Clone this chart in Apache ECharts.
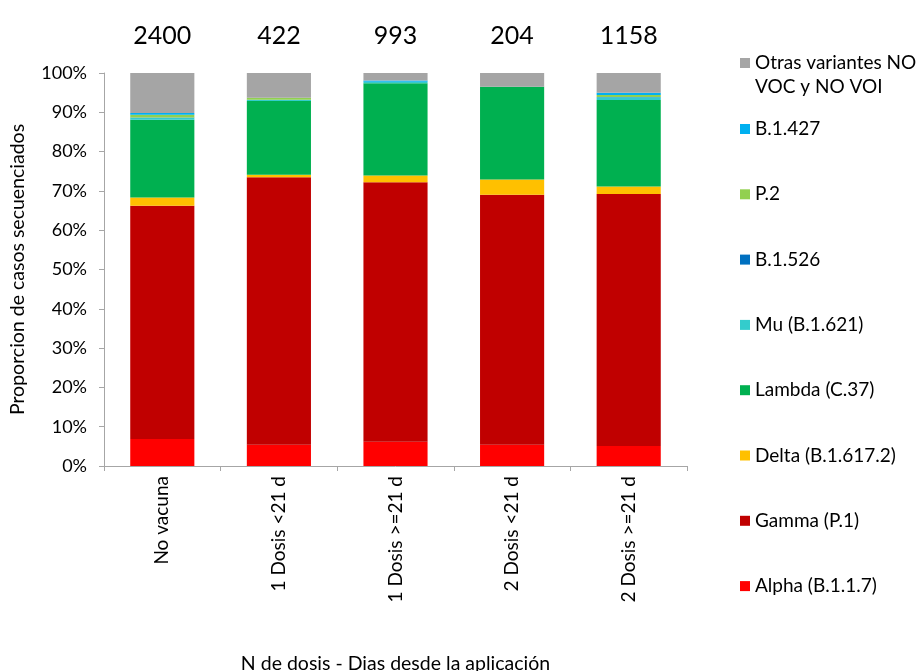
<!DOCTYPE html>
<html>
<head>
<meta charset="utf-8">
<script src="https://cdn.jsdelivr.net/npm/echarts@6/dist/echarts.min.js"></script>
<style>
  html, body { margin: 0; padding: 0; background: #fff; }
  #chart { width: 921px; height: 671px; }
</style>
</head>
<body>
<div id="chart"></div>
<script>
// Vaccination groups (x axis) and number of sequenced cases per group
const categories = ['No vacuna', '1 Dosis <21 d', '1 Dosis >=21 d', '2 Dosis <21 d', '2 Dosis >=21 d'];
const totals = [2400, 422, 993, 204, 1158];

// Share of sequenced cases per variant, in percent (stacked bottom to top)
const alpha   = [6.9, 5.4, 6.2, 5.4, 5.1];
const gamma   = [59.3, 68.1, 66.0, 63.6, 64.1];
const delta   = [2.1, 0.6, 1.7, 3.9, 1.9];
const lambda  = [19.8, 18.8, 23.5, 23.6, 22.0];
const mu      = [0.5, 0.3, 0.4, 0.0, 0.7];
const b1526   = [0.1, 0.0, 0.0, 0.0, 0.1];
const p2      = [0.7, 0.5, 0.0, 0.0, 0.5];
const b1427   = [0.4, 0.0, 0.3, 0.0, 0.6];
const otras   = [10.2, 6.3, 1.9, 3.5, 5.0];

const yTicks = [0, 10, 20, 30, 40, 50, 60, 70, 80, 90, 100];

const OTRAS = 'Otras variantes NO VOC y NO VOI';
const stackOrder = [
  { name: 'Alpha (B.1.1.7)',    data: alpha,  color: '#FF0000' },
  { name: 'Gamma (P.1)',        data: gamma,  color: '#C00000' },
  { name: 'Delta (B.1.617.2)',  data: delta,  color: '#FFC000' },
  { name: 'Lambda (C.37)',      data: lambda, color: '#00B050' },
  { name: 'Mu (B.1.621)',       data: mu,     color: '#33CCCC' },
  { name: 'B.1.526',            data: b1526,  color: '#0070C0' },
  { name: 'P.2',                data: p2,     color: '#92D050' },
  { name: 'B.1.427',            data: b1427,  color: '#00B0F0' },
  { name: OTRAS,                data: otras,  color: '#A5A5A5' }
];

const FONT = 'Lato, "Open Sans", sans-serif';

const series = stackOrder.map((s, idx) => ({
  name: s.name,
  type: 'bar',
  stack: 'total',
  data: s.data,
  barCategoryGap: '45%',
  itemStyle: { color: s.color },
  label: idx === stackOrder.length - 1 ? {
    show: true,
    position: 'top',
    distance: 25,
    color: '#000',
    fontFamily: FONT,
    fontSize: 25,
    formatter: p => String(totals[p.dataIndex])
  } : { show: false },
  emphasis: { disabled: true }
}));

const option = {
  animation: false,
  backgroundColor: '#fff',
  grid: {
    left: 104, top: 73, width: 583, height: 393,
    containLabel: false,
    outerBoundsMode: 'none'
  },
  legend: [
    {
      orient: 'vertical',
      left: 740,
      top: 27,
      padding: 0,
      itemWidth: 10,
      itemHeight: 10,
      icon: 'rect',
      data: [OTRAS],
      selectedMode: false,
      formatter: () => '\nOtras variantes NO\nVOC y NO VOI',
      textStyle: { color: '#000', fontFamily: FONT, fontSize: 19, lineHeight: 24 }
    },
    {
      orient: 'vertical',
      left: 740,
      top: 118,
      padding: 0,
      itemWidth: 10,
      itemHeight: 10,
      itemGap: 43.3,
      icon: 'rect',
      selectedMode: false,
      data: ['B.1.427', 'P.2', 'B.1.526', 'Mu (B.1.621)', 'Lambda (C.37)',
             'Delta (B.1.617.2)', 'Gamma (P.1)', 'Alpha (B.1.1.7)'],
      textStyle: { color: '#000', fontFamily: FONT, fontSize: 19, lineHeight: 22 }
    }
  ],
  xAxis: {
    type: 'category',
    data: categories,
    name: 'N de dosis - Dias desde la aplicación',
    nameLocation: 'middle',
    nameGap: 188,
    nameTextStyle: { color: '#000', fontFamily: FONT, fontSize: 19.5 },
    axisLine: { lineStyle: { color: '#A6A6A6', width: 1 } },
    axisTick: { show: true, length: 5, lineStyle: { color: '#A6A6A6' } },
    axisLabel: {
      rotate: 90,
      margin: 10,
      color: '#000',
      fontFamily: FONT,
      fontSize: 19,
      interval: 0
    }
  },
  yAxis: {
    type: 'value',
    min: 0,
    max: 100,
    interval: 10,
    name: 'Proporcion de casos secuenciados',
    nameLocation: 'middle',
    nameGap: 76,
    nameTextStyle: { color: '#000', fontFamily: FONT, fontSize: 19.5 },
    axisLine: { show: true, lineStyle: { color: '#A6A6A6', width: 1 } },
    axisTick: { show: true, length: 5, lineStyle: { color: '#A6A6A6' } },
    splitLine: { show: false },
    axisLabel: {
      margin: 17,
      color: '#000',
      fontFamily: FONT,
      fontSize: 18,
      formatter: v => (yTicks.includes(v) ? v + '%' : '')
    }
  },
  series: series
};

const chart = echarts.init(document.getElementById('chart'), null, { renderer: 'canvas' });
chart.setOption(option);
</script>
</body>
</html>
